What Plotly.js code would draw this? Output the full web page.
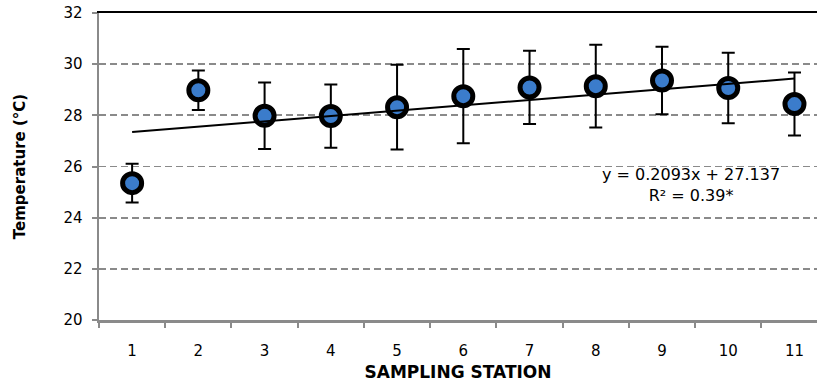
<!DOCTYPE html>
<html>
<head>
<meta charset="utf-8">
<script src="https://cdn.plot.ly/plotly-3.0.1.min.js"></script>
<style>html,body{margin:0;padding:0;background:#fff;}#chart{width:817px;height:388px;}</style>
</head>
<body>
<div id="chart"></div>
<script>
// Data
const stations = ["1","2","3","4","5","6","7","8","9","10","11"];
const meanTemp = [25.35, 28.98, 27.98, 27.97, 28.32, 28.75, 29.09, 29.14, 29.36, 29.07, 28.44];
const errTemp  = [0.76, 0.77, 1.30, 1.24, 1.66, 1.84, 1.43, 1.62, 1.32, 1.38, 1.23];
const yTicks = [20, 22, 24, 26, 28, 30, 32];
// Trendline from the printed equation y = 0.2093x + 27.137
const trendSlope = 0.2093;
const trendIntercept = 27.137;
const eqText = "y = 0.2093x + 27.137<br>R² = 0.39*";

const trendX = [stations[0], stations[stations.length-1]];
const trendY = [1, stations.length].map(n => trendSlope*n + trendIntercept);

const data = [
  {
    type: 'scatter', mode: 'markers', x: stations, y: meanTemp,
    marker: {size: 19, color: '#3B7CCB', line: {color: '#000', width: 5}},
    error_y: {type: 'data', array: errTemp, visible: true, color: '#000', thickness: 2, width: 6.5},
    showlegend: false, hoverinfo: 'x+y'
  },
  {
    type: 'scatter', mode: 'lines', x: trendX, y: trendY,
    line: {color: '#000', width: 2}, showlegend: false, hoverinfo: 'skip'
  },
  // empty trace that activates the top border axis
  {type: 'scatter', x: [], y: [], xaxis: 'x2', yaxis: 'y', showlegend: false, hoverinfo: 'skip'}
];

const layout = {
  width: 817, height: 388,
  margin: {l: 99, r: 0, t: 13, b: 68},
  paper_bgcolor: '#fff', plot_bgcolor: '#fff',
  font: {family: 'DejaVu Sans', color: '#000', size: 15},
  xaxis: {
    type: 'category', range: [-0.5, 10.34],
    tickson: 'boundaries', ticks: 'outside', ticklen: 5, tickwidth: 2, tickcolor: '#8a8a8a',
    showline: true, linecolor: '#8a8a8a', linewidth: 2.5,
    showgrid: false, zeroline: false,
    ticklabelstandoff: 15,
    tickfont: {family: 'DejaVu Sans', size: 15, color: '#000'},
    title: {text: 'SAMPLING STATION', font: {family: 'DejaVu Sans', size: 17, weight: 'bold', color: '#000'}, standoff: 8}
  },
  xaxis2: {
    overlaying: 'x', side: 'top', type: 'linear', range: [0, 1],
    showline: true, linecolor: '#000', linewidth: 2,
    showticklabels: false, ticks: '', showgrid: false, zeroline: false
  },
  yaxis: {
    range: [20, 32], tickmode: 'array', tickvals: yTicks, ticktext: yTicks.map(String),
    ticks: 'outside', ticklen: 5, tickwidth: 2, tickcolor: '#8a8a8a',
    showline: true, linecolor: '#8a8a8a', linewidth: 2.5,
    showgrid: true, gridcolor: '#8a8a8a', gridwidth: 1.8, griddash: '7px,4px',
    zeroline: false, ticklabelstandoff: 6,
    tickfont: {family: 'DejaVu Sans', size: 15, color: '#000'},
    title: {text: 'Temperature (°C)', font: {family: 'DejaVu Sans', size: 15, weight: 'bold', color: '#000'}, standoff: 34}
  },
  annotations: [{
    xref: 'paper', yref: 'paper', x: 0.825, y: 0.44, xanchor: 'center', yanchor: 'middle',
    text: eqText, showarrow: false, align: 'center',
    font: {family: 'DejaVu Sans', size: 16, color: '#000'}
  }]
};

Plotly.newPlot('chart', data, layout, {displayModeBar: false, staticPlot: true});
</script>
</body>
</html>
